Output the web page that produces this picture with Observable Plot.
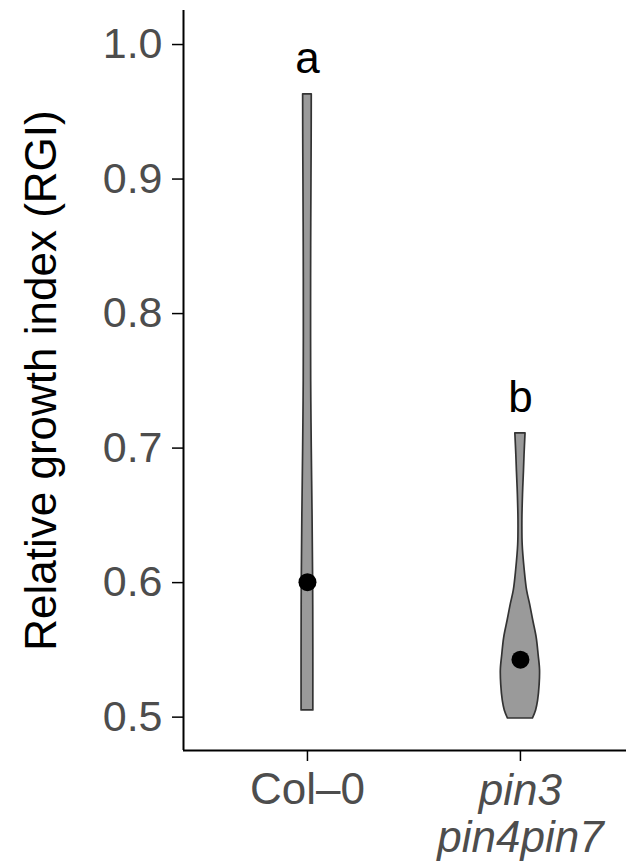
<!DOCTYPE html>
<html>
<head>
<meta charset="utf-8">
<script src="https://cdn.jsdelivr.net/npm/d3@7"></script>
<script src="https://cdn.jsdelivr.net/npm/@observablehq/plot@0.6"></script>
<style>
  html, body { margin: 0; padding: 0; background: #fff; }
  #chart svg { display: block; }
</style>
</head>
<body>
<div id="chart"></div>
<script>
// ---- data ----
const groups = ["Col–0", "pin3\npin4pin7"];
const italicGroup = [false, true];
const medians = [0.6003, 0.5427];
const letters = ["a", "b"];
const letterY = [0.989, 0.737];
const yTicks = [0.5, 0.6, 0.7, 0.8, 0.9, 1.0];

// violin outlines: value (RGI) and relative density (half-width)
const colValues  = [0.963, 0.93, 0.90, 0.85, 0.80, 0.75, 0.70, 0.65, 0.60, 0.55, 0.505];
const colDensity = [0.22, 0.215, 0.205, 0.19, 0.185, 0.19, 0.22, 0.26, 0.29, 0.30, 0.30];
const pinValues  = [0.711, 0.695, 0.683, 0.665, 0.646, 0.628, 0.609, 0.594, 0.584, 0.572, 0.559, 0.546, 0.535, 0.524, 0.512, 0.505, 0.499];
const pinDensity = [0.26, 0.21, 0.18, 0.13, 0.10, 0.115, 0.22, 0.34, 0.49, 0.65, 0.83, 0.93, 1.0, 0.98, 0.90, 0.80, 0.64];

// ---- build tables ----
const violinHalf = 0.092; // max half-width in x units
const violin = [
  ...colValues.map((v, i) => ({g: 1, value: v, dens: colDensity[i]})),
  ...pinValues.map((v, i) => ({g: 2, value: v, dens: pinDensity[i]}))
];
const cats = groups.map((name, i) => ({name, pos: i + 1, italic: italicGroup[i], median: medians[i], letter: letters[i], ly: letterY[i]}));

const xDomain = [0.418, 2.498];
const yDomain = [0.4752, 1.0253];
const font = "Liberation Sans, Arial, Helvetica, sans-serif";

const chart = Plot.plot({
  width: 626,
  height: 868,
  marginLeft: 183,
  marginRight: 0,
  marginTop: 10,
  marginBottom: 118,
  style: {fontFamily: font, background: "white", overflow: "visible"},
  x: {domain: xDomain, axis: null},
  y: {domain: yDomain, axis: null},
  marks: [
    Plot.areaX(violin, {
      y: "value",
      x1: d => d.g - d.dens * violinHalf,
      x2: d => d.g + d.dens * violinHalf,
      z: "g",
      fill: "#9a9a9a",
      stroke: "#333333",
      strokeWidth: 1.7,
      curve: "catmull-rom"
    }),
    Plot.dot(cats, {x: "pos", y: "median", r: 9, fill: "black", stroke: "none"}),
    Plot.text(cats, {x: "pos", y: "ly", text: "letter", fontSize: 44, fill: "black"}),
    Plot.axisY({ticks: yTicks, tickFormat: ".1f", tickSize: 11, tickPadding: 10, fontSize: 43,
                stroke: "black", strokeWidth: 1.5, fill: "#4d4d4d", label: null}),
    Plot.axisX({ticks: [1, 2], tickFormat: () => "", tickSize: 11, stroke: "black", strokeWidth: 1.5, label: null}),
    Plot.ruleX([xDomain[0]], {stroke: "black", strokeWidth: 2}),
    Plot.ruleY([yDomain[0]], {stroke: "black", strokeWidth: 2}),
    Plot.text(cats.filter(d => !d.italic), {x: "pos", text: "name", frameAnchor: "bottom", lineAnchor: "top",
                dy: 22, fontSize: 44, fill: "#4d4d4d"}),
    Plot.text(cats.filter(d => d.italic), {x: "pos", text: "name", frameAnchor: "bottom", lineAnchor: "top",
                dy: 22, fontSize: 44, fill: "#4d4d4d", fontStyle: "italic", lineHeight: 1.05}),
    Plot.text(["Relative growth index (RGI)"], {frameAnchor: "left", textAnchor: "middle", rotate: -90, dx: -142,
                fontSize: 44, fill: "black"})
  ]
});
document.getElementById("chart").appendChild(chart);
</script>
</body>
</html>
